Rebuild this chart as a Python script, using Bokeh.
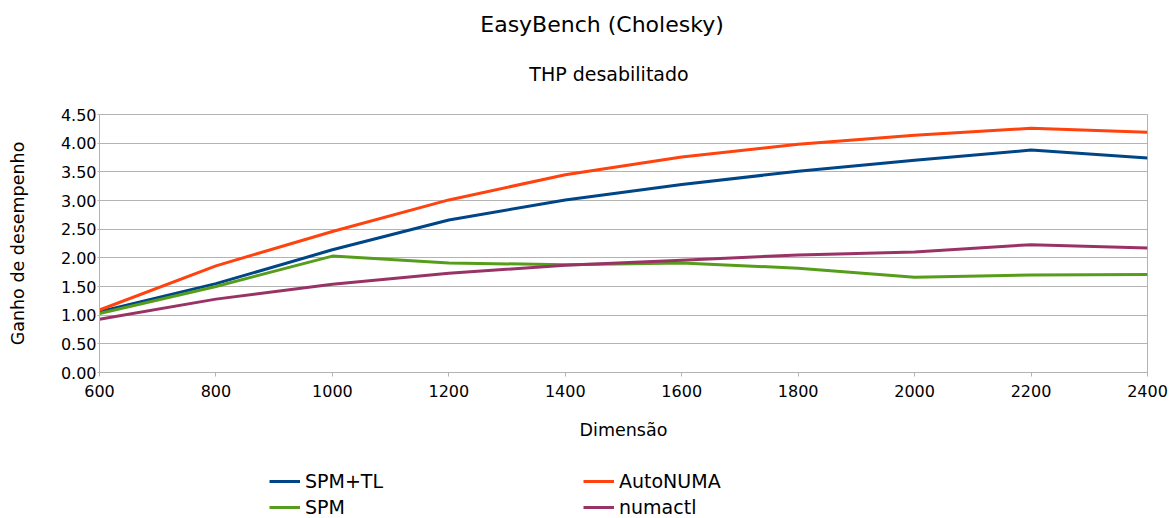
from bokeh.plotting import figure
from bokeh.layouts import column
from bokeh.models import (Range1d, FixedTicker, NumeralTickFormatter, Label, Legend, LegendItem)
from bokeh.embed import file_html
from bokeh.resources import INLINE

# ---- data ----
dimensions = [600, 800, 1000, 1200, 1400, 1600, 1800, 2000, 2200, 2400]
spm_tl = [1.06, 1.55, 2.14, 2.66, 3.01, 3.28, 3.51, 3.70, 3.88, 3.74]
autonuma = [1.09, 1.86, 2.46, 3.01, 3.45, 3.76, 3.98, 4.14, 4.26, 4.19]
spm = [1.03, 1.50, 2.03, 1.91, 1.88, 1.91, 1.82, 1.66, 1.70, 1.71]
numactl = [0.93, 1.28, 1.54, 1.73, 1.87, 1.96, 2.05, 2.10, 2.23, 2.17]
y_ticks = [0, 0.5, 1.0, 1.5, 2.0, 2.5, 3.0, 3.5, 4.0, 4.5]
x_ticks = [600, 800, 1000, 1200, 1400, 1600, 1800, 2000, 2200, 2400]
series_names = ["SPM+TL", "AutoNUMA", "SPM", "numactl"]
series_colors = ["#004586", "#ff420e", "#579d1c", "#993366"]

title_text = "EasyBench (Cholesky)"
subtitle_text = "THP desabilitado"
x_label = "Dimensão"
y_label = "Ganho de desempenho"

FONT = "DejaVu Sans"
GRID = "#b3b3b3"
W = 1174
LEFT = 99   # frame left edge (all figures in the column share it)
RIGHT = 27


def blank_fig(h):
    f = figure(width=W, height=h, output_backend="svg", toolbar_location=None,
               x_range=Range1d(0, W - LEFT - RIGHT), y_range=Range1d(0, h),
               x_axis_location=None, y_axis_location=None,
               min_border_left=LEFT, min_border_right=RIGHT, min_border_top=0, min_border_bottom=0)
    f.outline_line_color = None
    f.xgrid.visible = False
    f.ygrid.visible = False
    f.background_fill_color = "white"
    f.border_fill_color = "white"
    return f


# ---- title block ----
TH = 100
pt = blank_fig(TH)
pt.add_layout(Label(x=601.5 - LEFT, y=TH - 23.5, x_units="screen", y_units="screen", text=title_text,
                    text_font=FONT, text_font_size="22px", text_align="center",
                    text_baseline="alphabetic", text_color="black"))
pt.add_layout(Label(x=608.5 - LEFT, y=TH - 73.7, x_units="screen", y_units="screen", text=subtitle_text,
                    text_font=FONT, text_font_size="19px", text_align="center",
                    text_baseline="alphabetic", text_color="black"))

# ---- main chart ----
MH = 355
p = figure(width=W, height=MH, output_backend="svg", toolbar_location=None,
           x_range=Range1d(600, 2400), y_range=Range1d(0, 4.5),
           min_border_left=LEFT, min_border_right=RIGHT, min_border_top=14, min_border_bottom=83)
p.background_fill_color = "white"
p.border_fill_color = "white"
p.outline_line_color = GRID
p.outline_line_width = 1

p.xgrid.visible = False
p.ygrid.grid_line_color = GRID
p.ygrid.grid_line_width = 1
p.ygrid.ticker = FixedTicker(ticks=y_ticks)

p.xaxis.ticker = FixedTicker(ticks=x_ticks)
p.yaxis.ticker = FixedTicker(ticks=y_ticks)
p.yaxis.formatter = NumeralTickFormatter(format="0.00")

for ax in (p.xaxis[0], p.yaxis[0]):
    ax.axis_line_color = GRID
    ax.major_tick_line_color = GRID
    ax.minor_tick_line_color = None
    ax.major_tick_in = 0
    ax.major_label_text_font = FONT
    ax.major_label_text_font_size = "16px"
    ax.major_label_text_color = "black"
    ax.axis_label_text_font = FONT
    ax.axis_label_text_font_size = "17.5px"
    ax.axis_label_text_font_style = "normal"
    ax.axis_label_text_color = "black"

p.xaxis.major_tick_out = 4
p.xaxis.major_label_standoff = 8
p.xaxis.axis_label = x_label
p.xaxis.axis_label_standoff = 20

p.yaxis.major_tick_out = 2
p.yaxis.major_label_standoff = 1
p.yaxis.axis_label = y_label
p.yaxis.axis_label_standoff = 30

series_values = [spm_tl, autonuma, spm, numactl]
for vals, color in zip(series_values, series_colors):
    p.line(dimensions, vals, line_color=color, line_width=3)

# ---- legend block ----
LH = 518 - TH - MH
pl = blank_fig(LH)
leg_renderers = {}
for name, color in zip(series_names, series_colors):
    # off-screen stand-in so the legend can draw a line swatch
    leg_renderers[name] = pl.line(x=[-100, -50], y=[-100, -100], line_color=color, line_width=3)


def make_legend(names, loc):
    lg = Legend(items=[LegendItem(label=n, renderers=[leg_renderers[n]]) for n in names],
                location=loc, orientation="horizontal", padding=0, spacing=0, margin=0,
                glyph_width=31, glyph_height=18, label_height=18, label_width=278,
                label_standoff=5, border_line_color=None, background_fill_alpha=0,
                label_text_font=FONT, label_text_font_size="19px", label_text_color="black")
    pl.add_layout(lg, "center")


make_legend(["SPM+TL", "AutoNUMA"], (269 - LEFT, LH - (482.7 - (TH + MH)) - 9))
make_legend(["SPM", "numactl"], (269 - LEFT, max(0, LH - (511 - (TH + MH)) - 9)))

layout = column(pt, p, pl, spacing=0)
open("out.html", "w").write(file_html(layout, INLINE))
